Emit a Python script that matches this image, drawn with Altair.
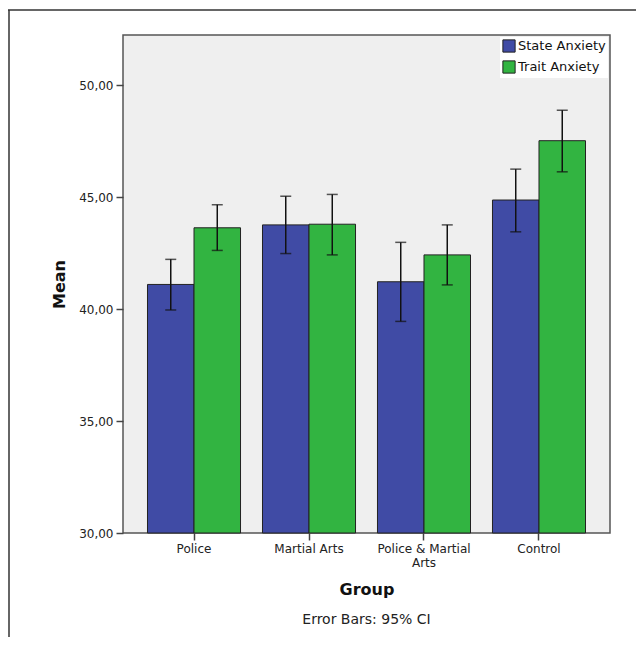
import altair as alt
import pandas as pd

groups = ["Police", "Martial Arts", "Police & Martial Arts", "Control"]
series = ["State Anxiety", "Trait Anxiety"]
state_mean = [41.10, 43.76, 41.22, 44.87]
state_lo = [39.96, 42.48, 39.45, 43.45]
state_hi = [42.22, 45.04, 42.98, 46.25]
trait_mean = [43.63, 43.79, 42.42, 47.52]
trait_lo = [42.62, 42.42, 41.08, 46.13]
trait_hi = [44.66, 45.12, 43.76, 48.88]
y_ticks = [30, 35, 40, 45, 50]
colors = ["#404BA5", "#32B441"]
caption = "Error Bars: 95% CI"

rows = []
for i, g in enumerate(groups):
    rows.append({"group": g, "series": series[0], "mean": state_mean[i], "lo": state_lo[i], "hi": state_hi[i]})
    rows.append({"group": g, "series": series[1], "mean": trait_mean[i], "lo": trait_lo[i], "hi": trait_hi[i]})
df = pd.DataFrame(rows)

W, H = 487, 498
FONT = "DejaVu Sans"

x_enc = alt.X("group:N", sort=groups,
              scale=alt.Scale(paddingInner=0.191, paddingOuter=0.213),
              axis=alt.Axis(title="Group", titleFontSize=16, titleFontWeight="bold",
                            titlePadding=13, labelFontSize=12, labelAngle=0,
                            labelPadding=3, tickSize=7, tickColor="#444", tickWidth=1.5,
                            domain=False, labelColor="#222", titleColor="#111",
                            labelExpr="datum.label == 'Police & Martial Arts' ? ['Police & Martial', 'Arts'] : datum.label"))
xo = alt.XOffset("series:N", sort=series, scale=alt.Scale(paddingInner=0, paddingOuter=0))
y_scale = alt.Scale(domain=[30, 52.24], zero=False, nice=False)

bars = alt.Chart(df).mark_bar(stroke="#222", strokeWidth=1).encode(
    x=x_enc,
    xOffset=xo,
    y=alt.Y("mean:Q", scale=y_scale,
            axis=alt.Axis(title="Mean", titleFontSize=16, titleFontWeight="bold",
                          titlePadding=11, values=y_ticks, labelFontSize=12,
                          labelPadding=3, tickSize=7, tickColor="#444", tickWidth=1.5,
                          grid=False, domain=False, labelColor="#222", titleColor="#111",
                          labelExpr="replace(format(datum.value, '.2f'), '.', ',')")),
    y2=alt.datum(30),
    color=alt.Color("series:N", sort=series,
                    scale=alt.Scale(domain=series, range=colors),
                    legend=alt.Legend(title=None, orient="top-right", offset=2,
                                      fillColor="white", padding=2, symbolType="square",
                                      symbolSize=150, symbolStrokeColor="#222",
                                      symbolStrokeWidth=1, symbolOpacity=1,
                                      labelFontSize=13, labelColor="#111",
                                      labelOffset=2, rowPadding=3)),
)

err = alt.Chart(df).mark_rule(color="#111", strokeWidth=1.5).encode(
    x=alt.X("group:N", sort=groups), xOffset=xo,
    y=alt.Y("lo:Q", scale=y_scale), y2="hi:Q",
)
cap_lo = alt.Chart(df).mark_tick(color="#111", thickness=1.5, size=11, orient="horizontal").encode(
    x=alt.X("group:N", sort=groups), xOffset=xo, y=alt.Y("lo:Q", scale=y_scale),
)
cap_hi = alt.Chart(df).mark_tick(color="#111", thickness=1.5, size=11, orient="horizontal").encode(
    x=alt.X("group:N", sort=groups), xOffset=xo, y=alt.Y("hi:Q", scale=y_scale),
)

frame_data = alt.Data(values=[{"k": 0}])
frame_top = alt.Chart(frame_data).mark_rule(color="#333", strokeWidth=1.5, clip=False).encode(
    x=alt.value(-115), x2=alt.value(530), y=alt.value(-25))
frame_left = alt.Chart(frame_data).mark_rule(color="#333", strokeWidth=1.5, clip=False).encode(
    x=alt.value(-114), y=alt.value(-25), y2=alt.value(620))

cap_text = alt.Chart(alt.Data(values=[{"t": caption}])).mark_text(
    fontSize=14, color="#222", align="center", baseline="middle", clip=False
).encode(text="t:N", x=alt.value(W / 2), y=alt.value(H + 87))

chart = alt.layer(bars, err, cap_lo, cap_hi, frame_top, frame_left, cap_text).properties(
    width=W, height=H,
    autosize=alt.AutoSizeParams(type="none"),
    padding={"left": 115, "top": 27, "right": 26, "bottom": 104},
).configure(font=FONT).configure_view(
    fill="#EFEFEF", stroke="#555", strokeWidth=1.5
)

chart.save("out.html", embed_options={"renderer": "svg", "actions": False})
